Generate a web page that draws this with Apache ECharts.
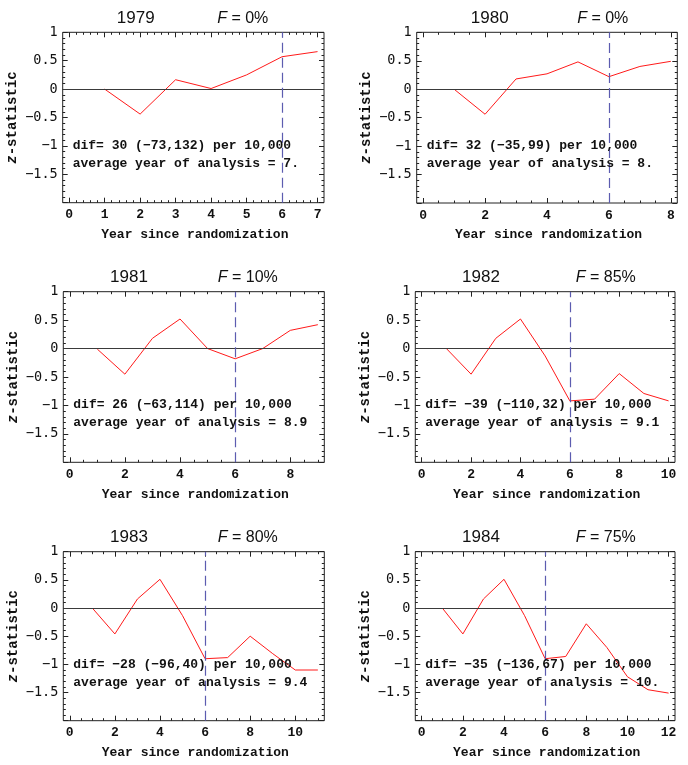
<!DOCTYPE html>
<html>
<head>
<meta charset="utf-8">
<script src="https://cdn.jsdelivr.net/npm/echarts@6/dist/echarts.min.js"></script>
<style>
html,body{margin:0;padding:0;background:#fff;}
#chart{width:688px;height:765px;}
</style>
</head>
<body>
<div id="chart"></div>
<script>
// ---------- data ----------
const panelYears = ['1979', '1980', '1981', '1982', '1983', '1984'];
const fValues = ['0%', '0%', '10%', '85%', '80%', '75%'];
const difValues = ['30', '32', '26', '−39', '−28', '−35'];
const difIntervals = ['(−73,132)', '(−35,99)', '(−63,114)', '(−110,32)', '(−96,40)', '(−136,67)'];
const avgYears = ['7.', '8.', '8.9', '9.1', '9.4', '10.'];
const cutoffYears = [6, 6, 6, 6, 6, 6];

const z1979 = [0, -0.44, 0.165, 0.01, 0.25, 0.57, 0.66];
const z1980 = [0, -0.44, 0.18, 0.27, 0.48, 0.22, 0.40, 0.49];
const z1981 = [-0.01, -0.45, 0.18, 0.52, 0, -0.18, 0, 0.32, 0.42];
const z1982 = [0, -0.45, 0.18, 0.52, -0.13, -0.92, -0.89, -0.44, -0.79, -0.92];
const z1983 = [0, -0.46, 0.16, 0.51, -0.135, -0.9, -0.88, -0.5, -0.81, -1.1, -1.1];
const z1984 = [0, -0.46, 0.16, 0.51, -0.135, -0.9, -0.86, -0.28, -0.7, -1.22, -1.45, -1.51];
const zSeries = [z1979, z1980, z1981, z1982, z1983, z1984];

const xTicks1979 = [0, 1, 2, 3, 4, 5, 6, 7];
const xTicks1980 = [0, 2, 4, 6, 8];
const xTicks1981 = [0, 2, 4, 6, 8];
const xTicks1982 = [0, 2, 4, 6, 8, 10];
const xTicks1983 = [0, 2, 4, 6, 8, 10];
const xTicks1984 = [0, 2, 4, 6, 8, 10, 12];
const xTickSets = [xTicks1979, xTicks1980, xTicks1981, xTicks1982, xTicks1983, xTicks1984];
const yTickLabels = [1, 0.5, 0, -0.5, -1, -1.5];

// ---------- layout ----------
const frames = [
  {l: 62.7, t: 32.3, r: 324, b: 202.7},
  {l: 416.7, t: 32.3, r: 677.3, b: 203},
  {l: 63.3, t: 291.7, r: 324.3, b: 462.3},
  {l: 415.3, t: 291.7, r: 675, b: 462.3},
  {l: 63.3, t: 551.7, r: 324.3, b: 720.7},
  {l: 415.3, t: 551.7, r: 675, b: 720.7}
];
const MONO = '"Liberation Mono", "Courier New", monospace';
const SANS = '"Liberation Sans", Arial, sans-serif';
const frameColor = '#222';

function fmt(v) {
  const s = String(v);
  return s.charAt(0) === '-' ? '−' + s.slice(1) : s;
}
function range(a, b, step) {
  const out = [];
  for (let k = 0; a + k * step <= b + 1e-9; k++) out.push(Math.round((a + k * step) * 1000) / 1000);
  return out;
}

const grids = [], xAxes = [], yAxes = [], series = [], graphics = [];

frames.forEach((f, i) => {
  const row = Math.floor(i / 2), col = i % 2;
  const n = zSeries[i].length;
  const pad = 0.026 * n;
  const xMin = -pad, xMax = n + pad;
  const major = xTickSets[i];
  const step = major[1] - major[0];
  const minorStep = step === 1 ? 0.2 : 0.5;
  const xMinor = range(0, n + pad, minorStep).filter(v => Math.abs(v / step - Math.round(v / step)) > 1e-6);
  const yMajor = range(-2, 1, 0.5);
  const yMinor = range(-2, 1, 0.1).filter(v => Math.abs(v / 0.5 - Math.round(v / 0.5)) > 1e-6);

  grids.push({
    left: f.l, top: f.t, width: f.r - f.l, height: f.b - f.t,
    show: true, borderColor: frameColor, borderWidth: 1, backgroundColor: 'transparent'
  });

  const baseX = {gridIndex: i, type: 'value', min: xMin, max: xMax,
    splitLine: {show: false}, axisLine: {show: false, onZero: false}};
  const baseY = {gridIndex: i, type: 'value', min: -2, max: 1,
    splitLine: {show: false}, axisLine: {show: false, onZero: false}};
  const xi = xAxes.length, yi = yAxes.length;

  xAxes.push(Object.assign({}, baseX, {
    position: 'bottom',
    axisTick: {show: true, inside: true, length: 5, customValues: major, lineStyle: {color: frameColor}},
    axisLabel: {show: true, customValues: major, formatter: v => fmt(v), margin: 6,
      fontFamily: MONO, fontWeight: 'bold', fontSize: 13, color: '#111'}
  }));
  xAxes.push(Object.assign({}, baseX, {
    position: 'bottom',
    axisTick: {show: true, inside: true, length: 2.5, customValues: xMinor, lineStyle: {color: frameColor}},
    axisLabel: {show: false}
  }));
  xAxes.push(Object.assign({}, baseX, {
    position: 'top',
    axisTick: {show: true, inside: true, length: 5, customValues: major, lineStyle: {color: frameColor}},
    axisLabel: {show: false}
  }));
  xAxes.push(Object.assign({}, baseX, {
    position: 'top',
    axisTick: {show: true, inside: true, length: 2.5, customValues: xMinor, lineStyle: {color: frameColor}},
    axisLabel: {show: false}
  }));

  yAxes.push(Object.assign({}, baseY, {
    position: 'left',
    axisTick: {show: true, inside: true, length: 5, customValues: yMajor, lineStyle: {color: frameColor}},
    axisLabel: {show: true, customValues: yTickLabels, formatter: v => fmt(v), margin: 5,
      fontFamily: '"DejaVu Sans Mono", monospace', fontSize: 13.5, color: '#111'}
  }));
  yAxes.push(Object.assign({}, baseY, {
    position: 'left',
    axisTick: {show: true, inside: true, length: 2.5, customValues: yMinor, lineStyle: {color: frameColor}},
    axisLabel: {show: false}
  }));
  yAxes.push(Object.assign({}, baseY, {
    position: 'right',
    axisTick: {show: true, inside: true, length: 5, customValues: yMajor, lineStyle: {color: frameColor}},
    axisLabel: {show: false}
  }));
  yAxes.push(Object.assign({}, baseY, {
    position: 'right',
    axisTick: {show: true, inside: true, length: 2.5, customValues: yMinor, lineStyle: {color: frameColor}},
    axisLabel: {show: false}
  }));

  series.push({
    type: 'line',
    xAxisIndex: xi, yAxisIndex: yi,
    data: zSeries[i].map((v, k) => [k + 1, v]),
    symbol: 'none',
    lineStyle: {color: '#ff1a1a', width: 1},
    silent: true,
    markLine: {
      silent: true, symbol: 'none', label: {show: false}, animation: false,
      data: [
        {yAxis: 0, lineStyle: {color: '#3a3a3a', type: 'solid', width: 1.2}},
        {xAxis: cutoffYears[i], lineStyle: {color: '#5c5cb0', type: [10, 5], width: 1.2}}
      ]
    },
    z: 3
  });

  graphics.push({
    type: 'text', z: 10,
    style: {text: panelYears[i], x: f.l + (row === 0 ? 73 : 65.7), y: f.t - 14,
      align: 'center', verticalAlign: 'middle', fontFamily: SANS, fontSize: 17, fill: '#111'}
  });
  graphics.push({
    type: 'text', z: 10,
    style: {text: '{i|F} = ' + fValues[i], x: f.l + (col === 0 ? 154.5 : 160.5), y: f.t - 14,
      align: 'left', verticalAlign: 'middle', fontFamily: SANS, fontSize: 16, fill: '#111',
      rich: {i: {fontStyle: 'italic', fontFamily: SANS, fontSize: 16, fill: '#111'}}}
  });
  graphics.push({
    type: 'text', z: 10, rotation: Math.PI / 2, x: f.l - 50, y: (f.t + f.b) / 2,
    style: {text: '{i|z}-statistic', x: 0, y: 0, align: 'center', verticalAlign: 'middle',
      fontFamily: MONO, fontWeight: 'bold', fontSize: 14, fill: '#111',
      rich: {i: {fontStyle: 'italic', fontFamily: MONO, fontWeight: 'bold', fontSize: 14, fill: '#111'}}}
  });
  graphics.push({
    type: 'text', z: 10,
    style: {text: 'Year since randomization', x: (f.l + f.r) / 2 + 1.5, y: f.b + 32,
      align: 'center', verticalAlign: 'middle', fontFamily: MONO, fontWeight: 'bold', fontSize: 13, fill: '#111'}
  });
  graphics.push({
    type: 'text', z: 10,
    style: {text: 'dif= ' + difValues[i] + ' ' + difIntervals[i] + ' per 10,000', x: f.l + 10, y: f.t + 113,
      align: 'left', verticalAlign: 'middle', fontFamily: MONO, fontWeight: 'bold', fontSize: 13, fill: '#111'}
  });
  graphics.push({
    type: 'text', z: 10,
    style: {text: 'average year of analysis = ' + avgYears[i], x: f.l + 10, y: f.t + 131,
      align: 'left', verticalAlign: 'middle', fontFamily: MONO, fontWeight: 'bold', fontSize: 13, fill: '#111'}
  });
});

const chart = echarts.init(document.getElementById('chart'), null, {renderer: 'canvas'});
chart.setOption({
  animation: false,
  backgroundColor: '#fff',
  grid: grids,
  xAxis: xAxes,
  yAxis: yAxes,
  series: series,
  graphic: graphics
});
</script>
</body>
</html>
